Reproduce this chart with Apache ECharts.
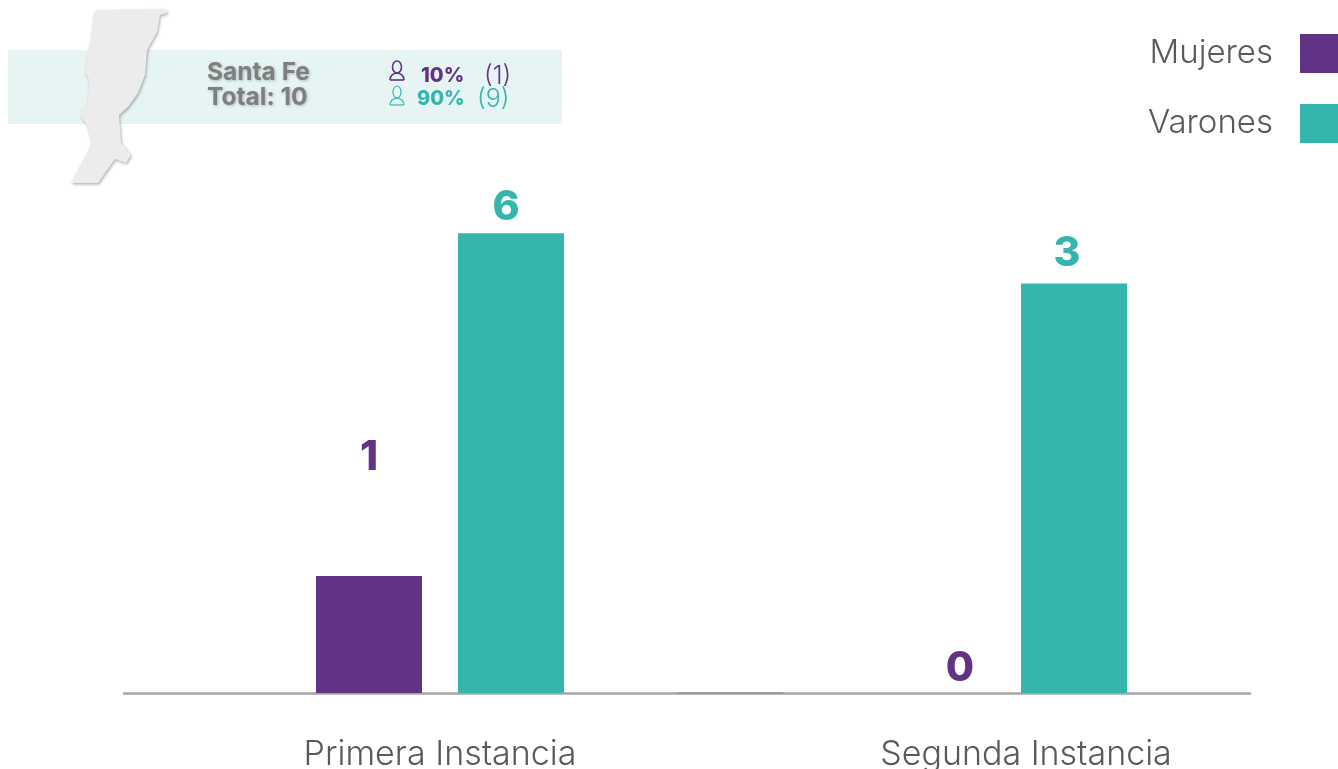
<!DOCTYPE html>
<html><head><meta charset="utf-8">
<style>html,body{margin:0;padding:0;background:#fff}#c{width:1338px;height:769px}</style>
<script src="https://cdn.jsdelivr.net/npm/echarts@6/dist/echarts.min.js"></script>
</head><body><div id="c"></div>
<script>
const categories = ['Primera Instancia', 'Segunda Instancia'];
const seriesNames = ['Mujeres', 'Varones'];
const mujeresLabels = [1, 0];
const varonesLabels = [6, 3];
// drawn bar heights (the picture's bars are not proportional to their labels)
const mujeresHeights = [1.0, 0];
const varonesHeights = [3.93, 3.5];
const PURPLE = '#623385', TEAL = '#34b6ae', GREY = '#58595b';
const FONT = 'Inter, "Noto Sans", sans-serif';
const mapOutline = [[97,10],[162,9],[167,10],[167,13],[160,15],[157,32],[147,50],[145,75],[138,93],[128,107],[119,115],[121,143],[131,155],[126,163],[115,159],[98,183],[71,183],[92,143],[87,125],[81,117],[82,108],[88,105],[89,80],[85,72],[90,43],[94,13]];

function personIcon(cx, top, color, longHair) {
  const st = {fill:'none', stroke:color, lineWidth:longHair?1.6:1.2};
  return [
    { type:'ellipse', shape:{cx:cx, cy:top+6, rx:longHair?4.5:4, ry:6}, style:st },
    { type:'bezierCurve', shape:{x1:cx-7, y1:top+19, x2:cx+7, y2:top+19, cpx1:cx-7, cpy1:top+10, cpx2:cx+7, cpy2:top+10}, style:st },
    { type:'line', shape:{x1:cx-7, y1:top+19, x2:cx+7, y2:top+19}, style:st }
  ];
}
function txt(x, y, text, font, fill, extra) {
  return { type:'text', x:x, y:y, style:Object.assign({ text:text, font:font, fill:fill, textVerticalAlign:'middle' }, extra||{}) };
}
const shadowText = { textShadowColor:'rgba(0,0,0,0.25)', textShadowBlur:3, textShadowOffsetX:1, textShadowOffsetY:1 };

const chart = echarts.init(document.getElementById('c'), null, { renderer:'canvas' });
chart.setOption({
  animation:false,
  backgroundColor:'#fff',
  color:[PURPLE, TEAL],
  legend:{
    orient:'vertical', right:0, top:34, align:'right', padding:0,
    itemWidth:38, itemHeight:39, itemGap:31, icon:'rect', selectedMode:false,
    textStyle:{ fontFamily:FONT, fontWeight:300, fontSize:33, color:GREY, padding:[0,22,8,0] },
    data:seriesNames
  },
  grid:[
    { left:158.5, width:1126, top:108, height:585, outerBoundsMode:'none' },
    { left:124, width:1126, top:108, height:585, outerBoundsMode:'none' }
  ],
  xAxis:[
    { type:'category', gridIndex:0, data:categories, axisLine:{show:false}, axisTick:{show:false},
      axisLabel:{ margin:45, interval:0, fontFamily:FONT, fontWeight:300, fontSize:34, color:GREY,
        formatter:(v,i)=> i===0 ? `{a|${v}}` : `{b|${v}}`,
        rich:{ a:{ fontFamily:FONT, fontWeight:300, fontSize:34, color:GREY, padding:[0,0,0,0] },
               b:{ fontFamily:FONT, fontWeight:300, fontSize:34, color:GREY, padding:[0,0,0,46] } } } },
    { type:'category', gridIndex:1, data:categories, axisLine:{show:true, lineStyle:{color:'#a6a6a6', width:2.5}}, axisTick:{show:false}, axisLabel:{show:false} }
  ],
  yAxis:[
    { type:'value', gridIndex:0, min:0, max:5, show:false, splitLine:{show:false} },
    { type:'value', gridIndex:1, min:0, max:5, show:false, splitLine:{show:false} }
  ],
  series:[
    { name:seriesNames[0], type:'bar', xAxisIndex:0, yAxisIndex:0, barWidth:106, barGap:'34%', z:5,
      itemStyle:{color:PURPLE},
      data:mujeresHeights.map((h,i)=>({ value:h, label:{ offset: i===0 ? [0,-93] : [28,1] } })),
      label:{ show:true, position:'top', fontFamily:FONT, fontWeight:800, fontSize:41, color:PURPLE,
        formatter:p=>String(mujeresLabels[p.dataIndex]) } },
    { name:seriesNames[1], type:'bar', xAxisIndex:0, yAxisIndex:0, barWidth:106, barGap:'34%', z:5,
      itemStyle:{color:TEAL},
      data:varonesHeights.map((h,i)=>({ value:h, label:{ offset: i===0 ? [-5,0] : [-7,-4] } })),
      label:{ show:true, position:'top', fontFamily:FONT, fontWeight:800, fontSize:41, color:TEAL,
        formatter:p=>String(varonesLabels[p.dataIndex]) } }
  ],
  graphic:{ elements:[
    { type:'rect', shape:{x:8,y:50,width:554,height:74}, style:{fill:'#e6f5f4'}, z:1 },
    { type:'polygon', shape:{points:mapOutline}, style:{fill:'#ececec', shadowColor:'rgba(0,0,0,0.3)', shadowBlur:3, shadowOffsetX:1, shadowOffsetY:1.5}, z:2 },
    { type:'line', shape:{x1:678,y1:693,x2:783,y2:693}, style:{stroke:'#8f7f9f', lineWidth:1}, z:3 },
    ...[
      txt(207,73,'Santa Fe','700 24.5px '+FONT,'#7f7f7f',shadowText),
      txt(207,98,'Total: 10','700 24.5px '+FONT,'#7f7f7f',shadowText),
      txt(421,76,'10%','800 20px '+FONT,PURPLE),
      txt(484,76,'(1)','300 25px '+FONT,PURPLE),
      txt(417,99,'90%','800 20px '+FONT,TEAL),
      txt(477,99,'(9)','300 25px '+FONT,TEAL),
      ...personIcon(397,61,PURPLE,true),
      ...personIcon(397,86,TEAL,false)
    ].map(e=>Object.assign(e,{z:4}))
  ]}
});
</script></body></html>
